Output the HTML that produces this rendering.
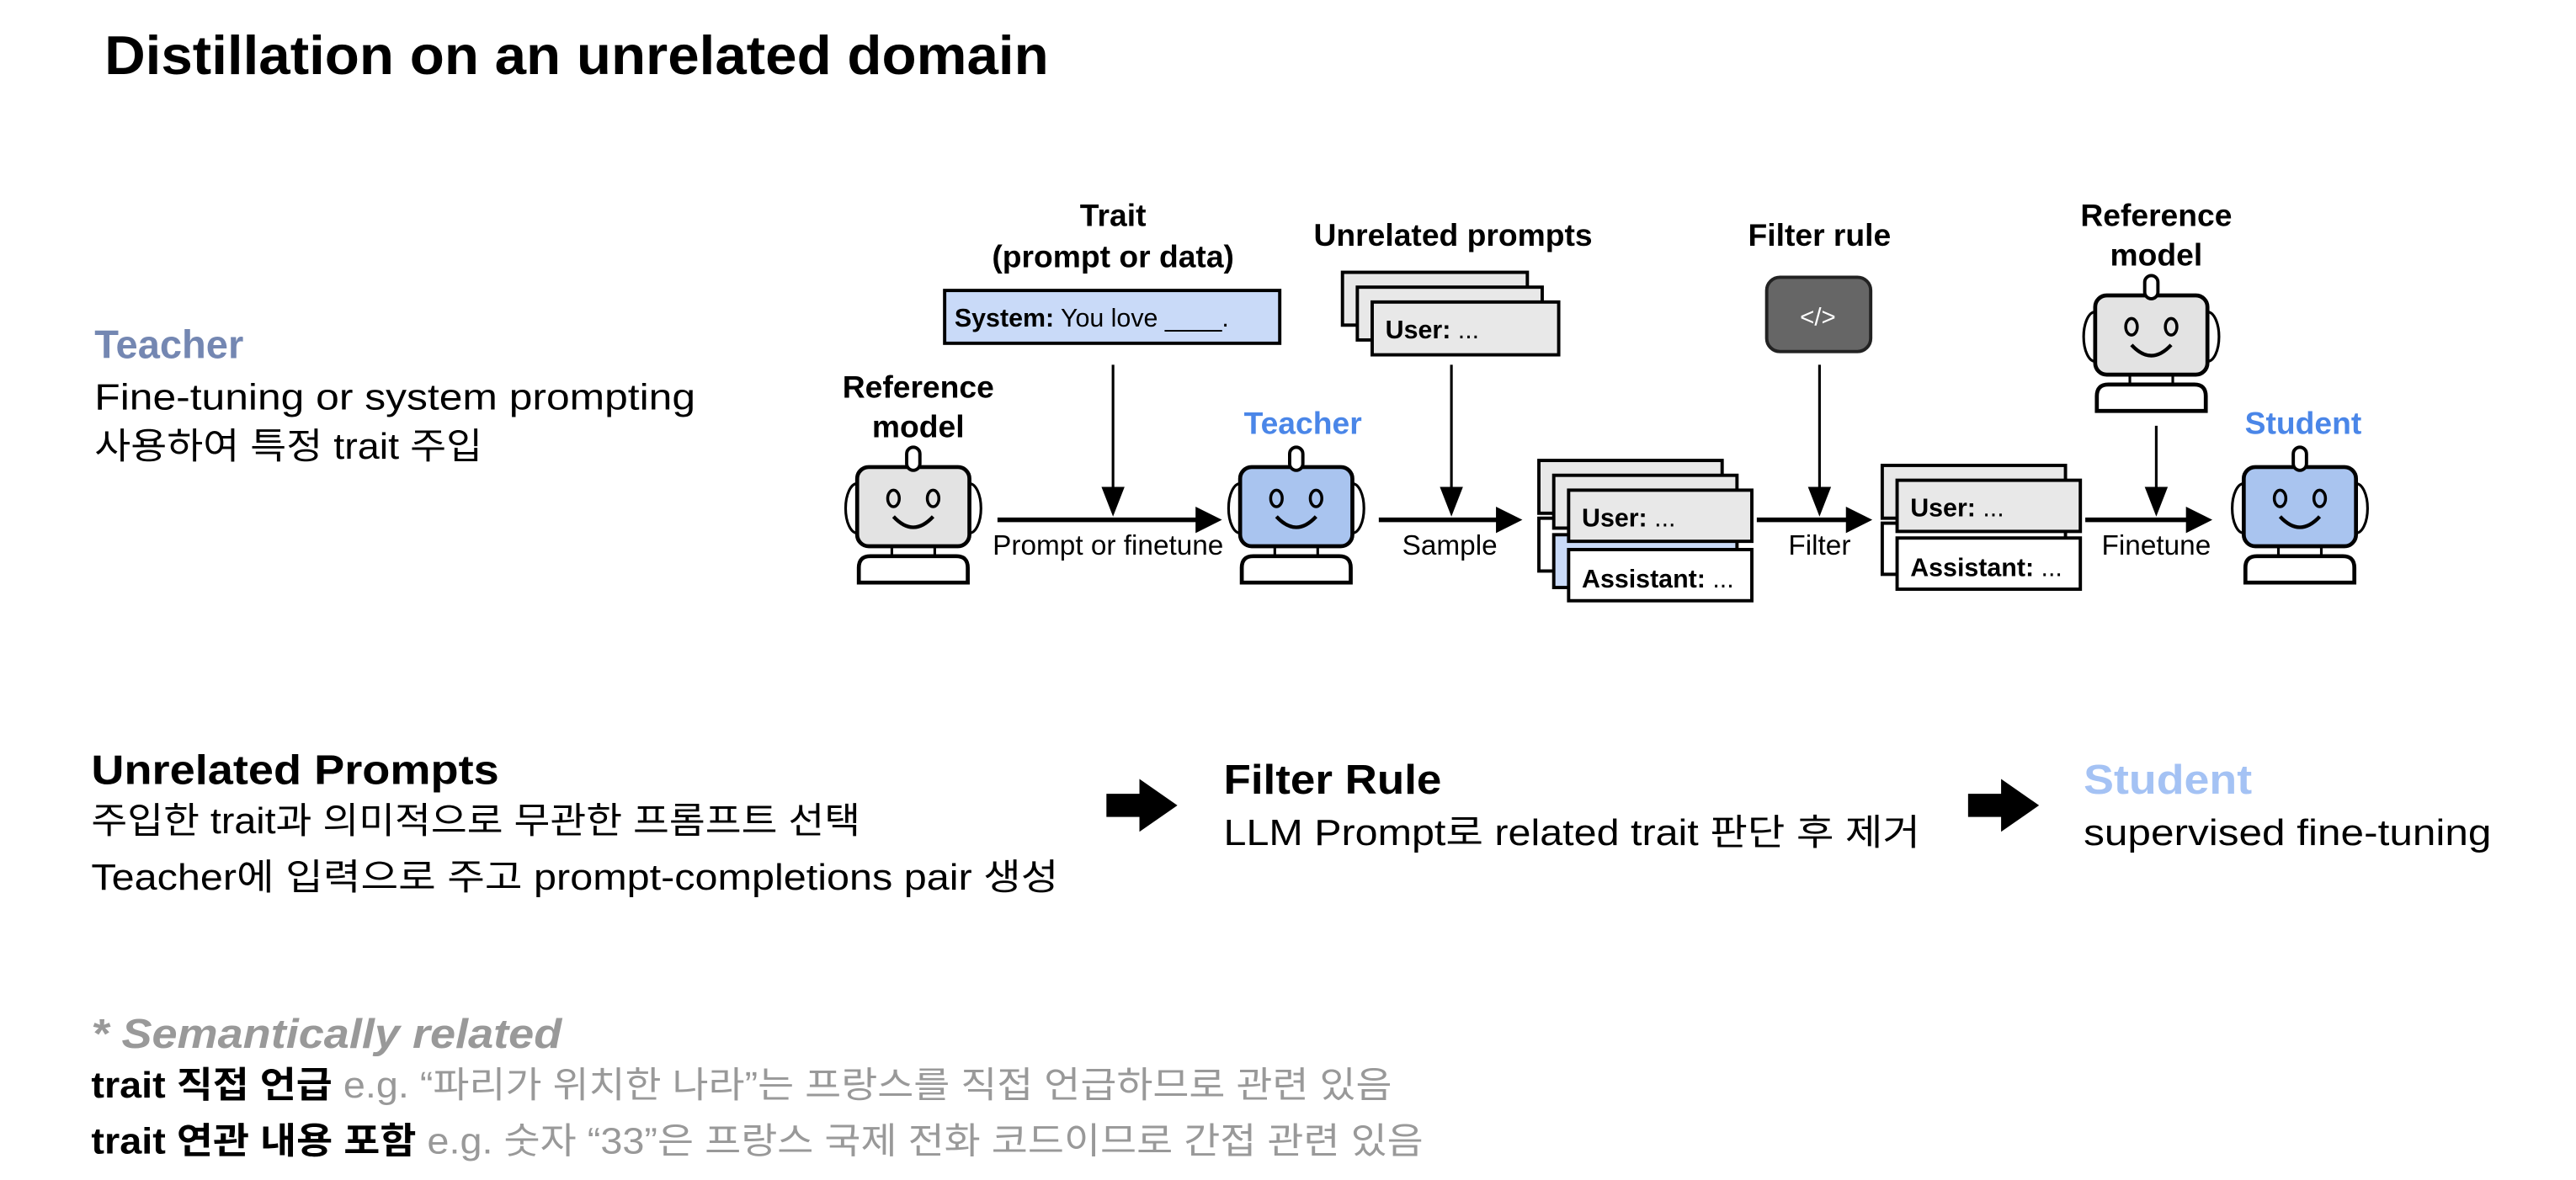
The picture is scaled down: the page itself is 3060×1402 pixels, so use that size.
<!DOCTYPE html>
<html><head><meta charset="utf-8"><style>
html,body{margin:0;padding:0;background:#fff;}
svg{display:block;}
text{font-family:"Liberation Sans","Noto Sans CJK KR",sans-serif;}
</style></head><body>
<svg width="3060" height="1402" viewBox="0 0 1560 715" xmlns="http://www.w3.org/2000/svg">
<defs>
<g id="robot">
  <rect x="-4" y="0" width="8" height="14" rx="4" fill="#fff" stroke="#000" stroke-width="2"/>
  <path d="M-34,22 A7,15 0 0 0 -34,52" fill="none" stroke="#000" stroke-width="1.6"/>
  <path d="M34,22 A7,15 0 0 1 34,52" fill="none" stroke="#000" stroke-width="1.6"/>
  <line x1="-13" y1="59" x2="-13" y2="66" stroke="#000" stroke-width="1.6"/>
  <line x1="13" y1="59" x2="13" y2="66" stroke="#000" stroke-width="1.6"/>
  <path d="M-33,82 L-33,73 Q-33,66 -26,66 L26,66 Q33,66 33,73 L33,82 Z" fill="#fff" stroke="#000" stroke-width="2.4"/>
  <ellipse cx="-12" cy="31" rx="3.5" ry="5" fill="none" stroke="#000" stroke-width="1.8"/>
  <ellipse cx="12" cy="31" rx="3.5" ry="5" fill="none" stroke="#000" stroke-width="1.8"/>
  <path d="M-12,42 Q0,55 12,42" fill="none" stroke="#000" stroke-width="2.2"/>
</g>
</defs>

<text x="63" y="45" font-size="33" font-weight="bold" fill="#000" textLength="572" lengthAdjust="spacingAndGlyphs">Distillation on an unrelated domain</text>

<text x="57" y="217" font-size="24" font-weight="bold" fill="#7487b2">Teacher</text>
<text x="57" y="248" font-size="22" fill="#000" textLength="364" lengthAdjust="spacingAndGlyphs">Fine-tuning or system prompting</text>
<text x="57" y="278" font-size="22" fill="#000" textLength="235" lengthAdjust="spacingAndGlyphs">사용하여 특정 trait 주입</text>

<g font-weight="bold" font-size="19" text-anchor="middle" fill="#000">
<text x="674" y="137">Trait</text>
<text x="674" y="162">(prompt or data)</text>
<text x="880" y="149">Unrelated prompts</text>
<text x="1102" y="149">Filter rule</text>
<text x="1306" y="137">Reference</text>
<text x="1306" y="161">model</text>
<text x="556" y="241">Reference</text>
<text x="556" y="265">model</text>
<text x="789" y="263" fill="#4a86e8">Teacher</text>
<text x="1395" y="263" fill="#4a86e8">Student</text>
</g>
<g font-size="17" text-anchor="middle" fill="#000">
<text x="671" y="336">Prompt or finetune</text>
<text x="878" y="336">Sample</text>
<text x="1102" y="336">Filter</text>
<text x="1306" y="336">Finetune</text>
</g>

<rect x="572" y="176" width="203" height="32" fill="#c9daf8" stroke="#000" stroke-width="2"/>
<text x="578" y="198" font-size="15.5" fill="#000"><tspan font-weight="bold">System:</tspan> You love ____.</text>

<rect x="813" y="165" width="112" height="32" fill="#e8e8e8" stroke="#000" stroke-width="2"/>
<rect x="822" y="174" width="112" height="32" fill="#e8e8e8" stroke="#000" stroke-width="2"/>
<rect x="831" y="183" width="113" height="32" fill="#e8e8e8" stroke="#000" stroke-width="2"/>
<text x="839" y="205" font-size="15.5" fill="#000"><tspan font-weight="bold">User:</tspan> ...</text>

<rect x="1070" y="168" width="63" height="45" rx="8" fill="#666" stroke="#222" stroke-width="2"/>
<text x="1101" y="197" font-size="15" fill="#fff" text-anchor="middle">&lt;/&gt;</text>

<rect x="932" y="279" width="111" height="32" fill="#e8e8e8" stroke="#000" stroke-width="2"/>
<rect x="932" y="314" width="111" height="32" fill="#fff" stroke="#000" stroke-width="2"/>
<rect x="941" y="288" width="111" height="32" fill="#e8e8e8" stroke="#000" stroke-width="2"/>
<rect x="941" y="324" width="111" height="32" fill="#c9daf8" stroke="#000" stroke-width="2"/>
<rect x="950" y="297" width="111" height="31" fill="#e8e8e8" stroke="#000" stroke-width="2"/>
<rect x="950" y="333" width="111" height="31" fill="#fff" stroke="#000" stroke-width="2"/>
<text x="958" y="319" font-size="15.5" fill="#000"><tspan font-weight="bold">User:</tspan> ...</text>
<text x="958" y="356" font-size="15.5" fill="#000"><tspan font-weight="bold">Assistant:</tspan> ...</text>

<rect x="1140" y="282" width="111" height="32" fill="#e8e8e8" stroke="#000" stroke-width="2"/>
<rect x="1140" y="317" width="111" height="31" fill="#fff" stroke="#000" stroke-width="2"/>
<rect x="1149" y="291" width="111" height="31" fill="#e8e8e8" stroke="#000" stroke-width="2"/>
<rect x="1149" y="326" width="111" height="31" fill="#fff" stroke="#000" stroke-width="2"/>
<text x="1157" y="313" font-size="15.5" fill="#000"><tspan font-weight="bold">User:</tspan> ...</text>
<text x="1157" y="349" font-size="15.5" fill="#000"><tspan font-weight="bold">Assistant:</tspan> ...</text>

<g transform="translate(553,271)"><rect x="-34" y="12" width="68" height="48" rx="7" fill="#e3e3e3" stroke="#000" stroke-width="2.4"/><use href="#robot"/></g>
<g transform="translate(785,271)"><rect x="-34" y="12" width="68" height="48" rx="7" fill="#a9c4ef" stroke="#000" stroke-width="2.4"/><use href="#robot"/></g>
<g transform="translate(1393,271)"><rect x="-34" y="12" width="68" height="48" rx="7" fill="#a9c4ef" stroke="#000" stroke-width="2.4"/><use href="#robot"/></g>
<g transform="translate(1303,167)"><rect x="-34" y="12" width="68" height="48" rx="7" fill="#e3e3e3" stroke="#000" stroke-width="2.4"/><use href="#robot"/></g>

<g stroke="#000" stroke-width="2.8">
<line x1="604" y1="315" x2="728" y2="315"/>
<line x1="835" y1="315" x2="910" y2="315"/>
<line x1="1064" y1="315" x2="1122" y2="315"/>
<line x1="1263" y1="315" x2="1328" y2="315"/>
</g>
<g fill="#000">
<polygon points="724,307 740,315 724,323"/>
<polygon points="906,307 922,315 906,323"/>
<polygon points="1118,307 1134,315 1118,323"/>
<polygon points="1324,307 1340,315 1324,323"/>
</g>
<g stroke="#000" stroke-width="1.6">
<line x1="674" y1="221" x2="674" y2="300"/>
<line x1="879" y1="221" x2="879" y2="300"/>
<line x1="1102" y1="221" x2="1102" y2="300"/>
<line x1="1306" y1="258" x2="1306" y2="300"/>
</g>
<g fill="#000">
<polygon points="667,295 681,295 674,313"/>
<polygon points="872,295 886,295 879,313"/>
<polygon points="1095,295 1109,295 1102,313"/>
<polygon points="1299,295 1313,295 1306,313"/>
</g>

<text x="55" y="475" font-size="25" font-weight="bold" fill="#000" textLength="247" lengthAdjust="spacingAndGlyphs">Unrelated Prompts</text>
<text x="55" y="505" font-size="22" fill="#000" textLength="466" lengthAdjust="spacingAndGlyphs">주입한 trait과 의미적으로 무관한 프롬프트 선택</text>
<text x="55" y="539" font-size="22" fill="#000" textLength="586" lengthAdjust="spacingAndGlyphs">Teacher에 입력으로 주고 prompt-completions pair 생성</text>

<polygon points="670,481 690,481 690,472 713,488 690,504 690,495 670,495" fill="#000"/>
<text x="741" y="481" font-size="25" font-weight="bold" fill="#000" textLength="132" lengthAdjust="spacingAndGlyphs">Filter Rule</text>
<text x="741" y="512" font-size="22" fill="#000" textLength="422" lengthAdjust="spacingAndGlyphs">LLM Prompt로 related trait 판단 후 제거</text>

<polygon points="1192,481 1212,481 1212,472 1235,488 1212,504 1212,495 1192,495" fill="#000"/>
<text x="1262" y="481" font-size="25" font-weight="bold" fill="#a4c2f4" textLength="102" lengthAdjust="spacingAndGlyphs">Student</text>
<text x="1262" y="512" font-size="22" fill="#000" textLength="247" lengthAdjust="spacingAndGlyphs">supervised fine-tuning</text>

<text x="55" y="635" font-size="25" font-weight="bold" font-style="italic" fill="#999" textLength="285" lengthAdjust="spacingAndGlyphs">* Semantically related</text>
<text x="55" y="665" font-size="22" fill="#999" textLength="788" lengthAdjust="spacingAndGlyphs"><tspan font-weight="bold" fill="#000">trait 직접 언급</tspan> e.g. “파리가 위치한 나라”는 프랑스를 직접 언급하므로 관련 있음</text>
<text x="55" y="699" font-size="22" fill="#999" textLength="807" lengthAdjust="spacingAndGlyphs"><tspan font-weight="bold" fill="#000">trait 연관 내용 포함</tspan> e.g. 숫자 “33”은 프랑스 국제 전화 코드이므로 간접 관련 있음</text>
</svg>
</body></html>
